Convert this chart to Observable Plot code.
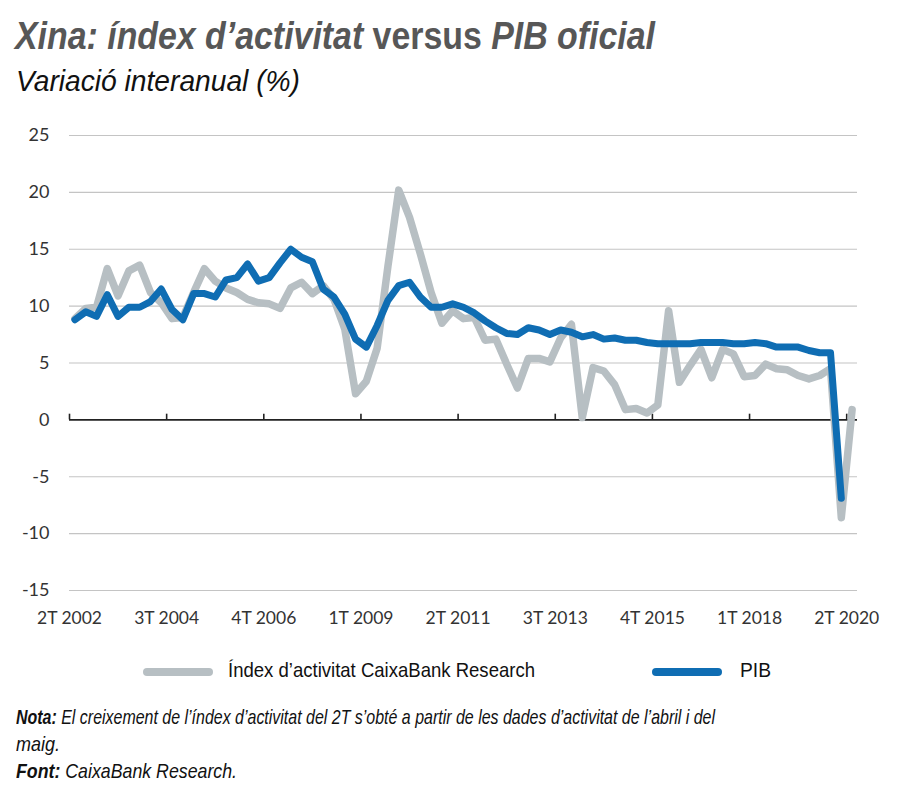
<!DOCTYPE html>
<html>
<head>
<meta charset="utf-8">
<script src="https://cdn.jsdelivr.net/npm/d3@7"></script>
<script src="https://cdn.jsdelivr.net/npm/@observablehq/plot@0.6"></script>
<style>
  body { margin:0; background:#fff; width:900px; height:800px; position:relative; overflow:hidden; }
  .abs { position:absolute; white-space:nowrap; display:inline-block; transform-origin:0 50%; }
  #title { left:15px; top:15px; font-family:"Liberation Sans",Arial,sans-serif; font-weight:bold; font-style:italic; font-size:38px; color:#575757; }
  #title .up { font-style:normal; }
  #subtitle { left:16px; top:65px; font-family:"Liberation Sans",Arial,sans-serif; font-style:italic; font-size:29px; color:#111; }
  #chart { position:absolute; left:0; top:110px; }
  .leg { top:658px; font-family:"Liberation Sans",Arial,sans-serif; font-size:21px; color:#111; }
  .sw { position:absolute; height:8px; border-radius:4px; top:668px; }
  .note { left:16px; font-family:"Liberation Sans",Arial,sans-serif; font-style:italic; font-size:21px; color:#111; }
  .note b { font-weight:bold; }
</style>
</head>
<body>
<div id="title" class="abs fit" data-w="640">Xina: índex d’activitat <span class="up">versus</span> PIB oficial</div>
<div id="subtitle" class="abs fit" data-w="284">Variació interanual (%)</div>
<div id="chart"></div>
<div class="sw" style="left:143px;width:70px;background:#b7bfc3;"></div>
<div class="abs leg fit" data-w="307" style="left:228px;">Índex d’activitat CaixaBank Research</div>
<div class="sw" style="left:652px;width:70px;background:#0f6db3;"></div>
<div class="abs leg fit" data-w="31" style="left:740px;">PIB</div>
<div class="abs note fit" data-w="699" style="top:705px;"><b>Nota:</b> El creixement de l’índex d’activitat del 2T s’obté a partir de les dades d’activitat de l’abril i del</div>
<div class="abs note fit" data-w="44" style="top:732px;">maig.</div>
<div class="abs note fit" data-w="221" style="top:759px;"><b>Font:</b> CaixaBank Research.</div>
<script>
// Quarterly series, 2T 2002 ... 2T 2020
const tickLabels = ["2T 2002","3T 2004","4T 2006","1T 2009","2T 2011","3T 2013","4T 2015","1T 2018","2T 2020"];
const activitat = [8.9,9.8,9.9,13.3,10.9,13.1,13.6,11.2,10.3,8.9,9.0,11.2,13.3,12.2,11.6,11.2,10.6,10.3,10.2,9.8,
  11.6,12.1,11.1,11.8,10.6,8.0,2.3,3.4,6.3,13.5,20.2,17.8,14.6,11.2,8.5,9.6,8.9,9.0,7.0,7.1,
  4.9,2.8,5.4,5.4,5.1,7.2,8.4,0.2,4.6,4.3,3.1,0.9,1.0,0.6,1.3,9.6,3.3,4.8,6.2,3.7,
  6.2,5.8,3.8,3.9,4.9,4.5,4.4,3.9,3.6,3.9,4.5,-8.6,0.9];
const pib = [8.8,9.5,9.1,11.0,9.1,9.9,9.9,10.4,11.5,9.7,8.8,11.1,11.1,10.8,12.3,12.5,13.7,12.2,12.5,13.8,
  15.0,14.3,13.9,11.5,10.8,9.3,7.1,6.4,8.3,10.5,11.8,12.1,10.8,9.9,9.9,10.2,9.9,9.4,8.7,8.1,
  7.6,7.5,8.1,7.9,7.5,7.9,7.7,7.3,7.5,7.1,7.2,7.0,7.0,6.8,6.7,6.7,6.7,6.7,6.8,6.8,
  6.8,6.7,6.7,6.8,6.7,6.4,6.4,6.4,6.1,5.9,5.9,-6.9];
const yTicks = [-15,-10,-5,0,5,10,15,20,25];

const actData = activitat.map((v,i)=>({i, v}));
const pibData = pib.map((v,i)=>({i, v}));
const tickPos = tickLabels.map((_,k)=>k*9 - 0.5);
const font = "Lato, 'Open Sans', sans-serif";

const chart = Plot.plot({
  width: 900, height: 520,
  marginTop: 25, marginBottom: 40, marginLeft: 69, marginRight: 43,
  style: {fontFamily: font, fontSize: "18px", color: "#333", background: "#fff"},
  x: {domain: [-0.5, 72.5], label: null},
  y: {domain: [-15, 25], label: null},
  marks: [
    Plot.ruleY(yTicks.filter(d => d !== 0), {stroke: "#c4c4c4", strokeWidth: 1.2}),
    Plot.ruleY([0], {stroke: "#222", strokeWidth: 1.6}),
    Plot.ruleX(tickPos, {y1: 0, y2: 0.5, stroke: "#222", strokeWidth: 1.6}),
    Plot.axisY({ticks: yTicks, tickSize: 0, tickPadding: 20, tickFormat: d => String(d), fontSize: 18, label: null}),
    Plot.axisX({ticks: tickPos, tickSize: 0, tickPadding: 21, fontSize: 17.5, label: null,
      tickFormat: d => tickLabels[Math.round((d + 0.5) / 9)]}),
    Plot.line(actData, {x: "i", y: "v", stroke: "#b7bfc3", strokeWidth: 7.5, strokeLinejoin: "round", strokeLinecap: "round"}),
    Plot.line(pibData, {x: "i", y: "v", stroke: "#0f6db3", strokeWidth: 7, strokeLinejoin: "round", strokeLinecap: "round"})
  ]
});
document.getElementById("chart").appendChild(chart);

// fit condensed texts to the reference widths
document.querySelectorAll(".fit").forEach(el => {
  const w = el.getBoundingClientRect().width;
  const target = +el.dataset.w;
  if (w > 0) el.style.transform = `scaleX(${target / w})`;
});
</script>
</body>
</html>
